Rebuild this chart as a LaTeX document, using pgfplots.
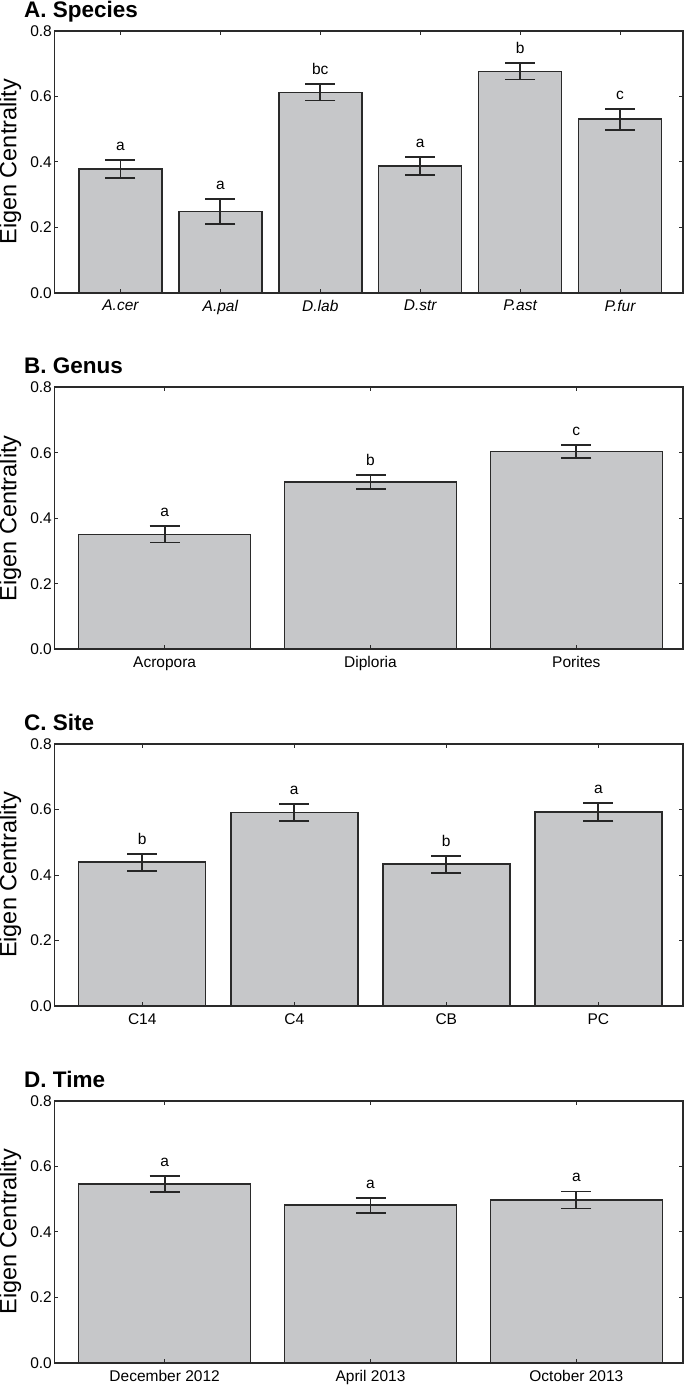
\documentclass[border=0pt]{standalone}
\usepackage{fontspec}
\setmainfont{Liberation Sans}
\usepackage{pgfplots}
\usepackage{pgfplotstable}
\pgfplotsset{compat=1.18}
\definecolor{barfill}{HTML}{C6C7C9}
\definecolor{edge}{HTML}{2A2A2A}
\definecolor{errc}{HTML}{262626}

\pgfplotstableread{
x y err lab
0 0.378 0.028 a
1 0.248 0.038 a
2 0.612 0.025 bc
3 0.387 0.027 a
4 0.676 0.025 b
5 0.530 0.032 c
}\dataA
\pgfplotstableread{
x y err lab
0 0.351 0.025 a
1 0.511 0.021 b
2 0.604 0.021 c
}\dataB
\pgfplotstableread{
x y err lab
0 0.439 0.026 b
1 0.591 0.026 a
2 0.433 0.026 b
3 0.592 0.028 a
}\dataC
\pgfplotstableread{
x y err lab
0 0.546 0.025 a
1 0.481 0.023 a
2 0.497 0.026 a
}\dataD

\pgfplotsset{
  panel/.style={
    scale only axis,
    width=628.5pt, height=262pt,
    anchor=south west,
    ymin=0, ymax=0.8,
    ytick={0,0.2,0.4,0.6,0.8},
    xtick=data,
    tick align=inside,
    major tick length=4pt,
    major tick style={line width=1pt, color=edge},
    axis line style={line width=1.8pt, color=edge},
    axis on top=true,
    tick label style={font=\fontsize{15.5}{16}\selectfont},
    yticklabel style={inner sep=0pt, xshift=-2.5pt,
      /pgf/number format/.cd, fixed, fixed zerofill, precision=1, assume math mode=true},
    xticklabel style={inner sep=0pt, anchor=north, yshift=-7pt},
    every axis title/.style={at={(-0.0538,1)}, anchor=base west, yshift=13.5pt,
      font=\bfseries\fontsize{22.5}{24}\selectfont},
    every axis y label/.style={at={(-0.0605,0.5)}, rotate=90, anchor=base,
      font=\fontsize{23.5}{24}\selectfont},
    ylabel={Eigen Centrality},
  },
  bars/.style={ybar, bar width=#1, fill=barfill, draw=edge, line width=1.5pt,
    error bars/.cd, y dir=both, y explicit,
    error bar style={line width=1.8pt, color=errc},
    error mark options={rotate=90, mark size=15pt, line width=1.8pt, color=errc}},
  letters/.style={draw=none, mark=none, nodes near coords, point meta=explicit symbolic,
    every node near coord/.append style={anchor=base, yshift=9.5pt, inner sep=0pt,
      font=\fontsize{15.5}{16}\selectfont, color=black}},
}

\begin{document}
\begin{tikzpicture}
% Panel A
\begin{axis}[panel, at={(54.5pt,-292.7pt)}, title={A. Species},
  xmin=-0.66, xmax=5.63,
  xticklabels={\itshape A.cer, \itshape A.pal, \itshape D.lab, \itshape D.str, \itshape P.ast, \itshape P.fur}]
\addplot[bars=83pt] table[x=x, y=y, y error=err] {\dataA};
\addplot[letters] table[x=x, y expr=\thisrow{y}+\thisrow{err}, meta=lab] {\dataA};
\end{axis}
% Panel B
\begin{axis}[panel, at={(54.5pt,-649.3pt)}, title={B. Genus},
  xmin=-0.535, xmax=2.518,
  xticklabels={Acropora, Diploria, Porites}]
\addplot[bars=172pt] table[x=x, y=y, y error=err] {\dataB};
\addplot[letters] table[x=x, y expr=\thisrow{y}+\thisrow{err}, meta=lab] {\dataB};
\end{axis}
% Panel C
\begin{axis}[panel, at={(54.5pt,-1006pt)}, title={C. Site},
  xmin=-0.577, xmax=3.557,
  xticklabels={C14, C4, CB, PC}]
\addplot[bars=127pt] table[x=x, y=y, y error=err] {\dataC};
\addplot[letters] table[x=x, y expr=\thisrow{y}+\thisrow{err}, meta=lab] {\dataC};
\end{axis}
% Panel D
\begin{axis}[panel, at={(54.5pt,-1362.7pt)}, title={D. Time},
  xmin=-0.535, xmax=2.518,
  xticklabels={December 2012, April 2013, October 2013}]
\addplot[bars=172pt] table[x=x, y=y, y error=err] {\dataD};
\addplot[letters] table[x=x, y expr=\thisrow{y}+\thisrow{err}, meta=lab] {\dataD};
\end{axis}
\pgfresetboundingbox
\path (0pt,0pt) rectangle (685pt,-1385pt);
\end{tikzpicture}
\end{document}
